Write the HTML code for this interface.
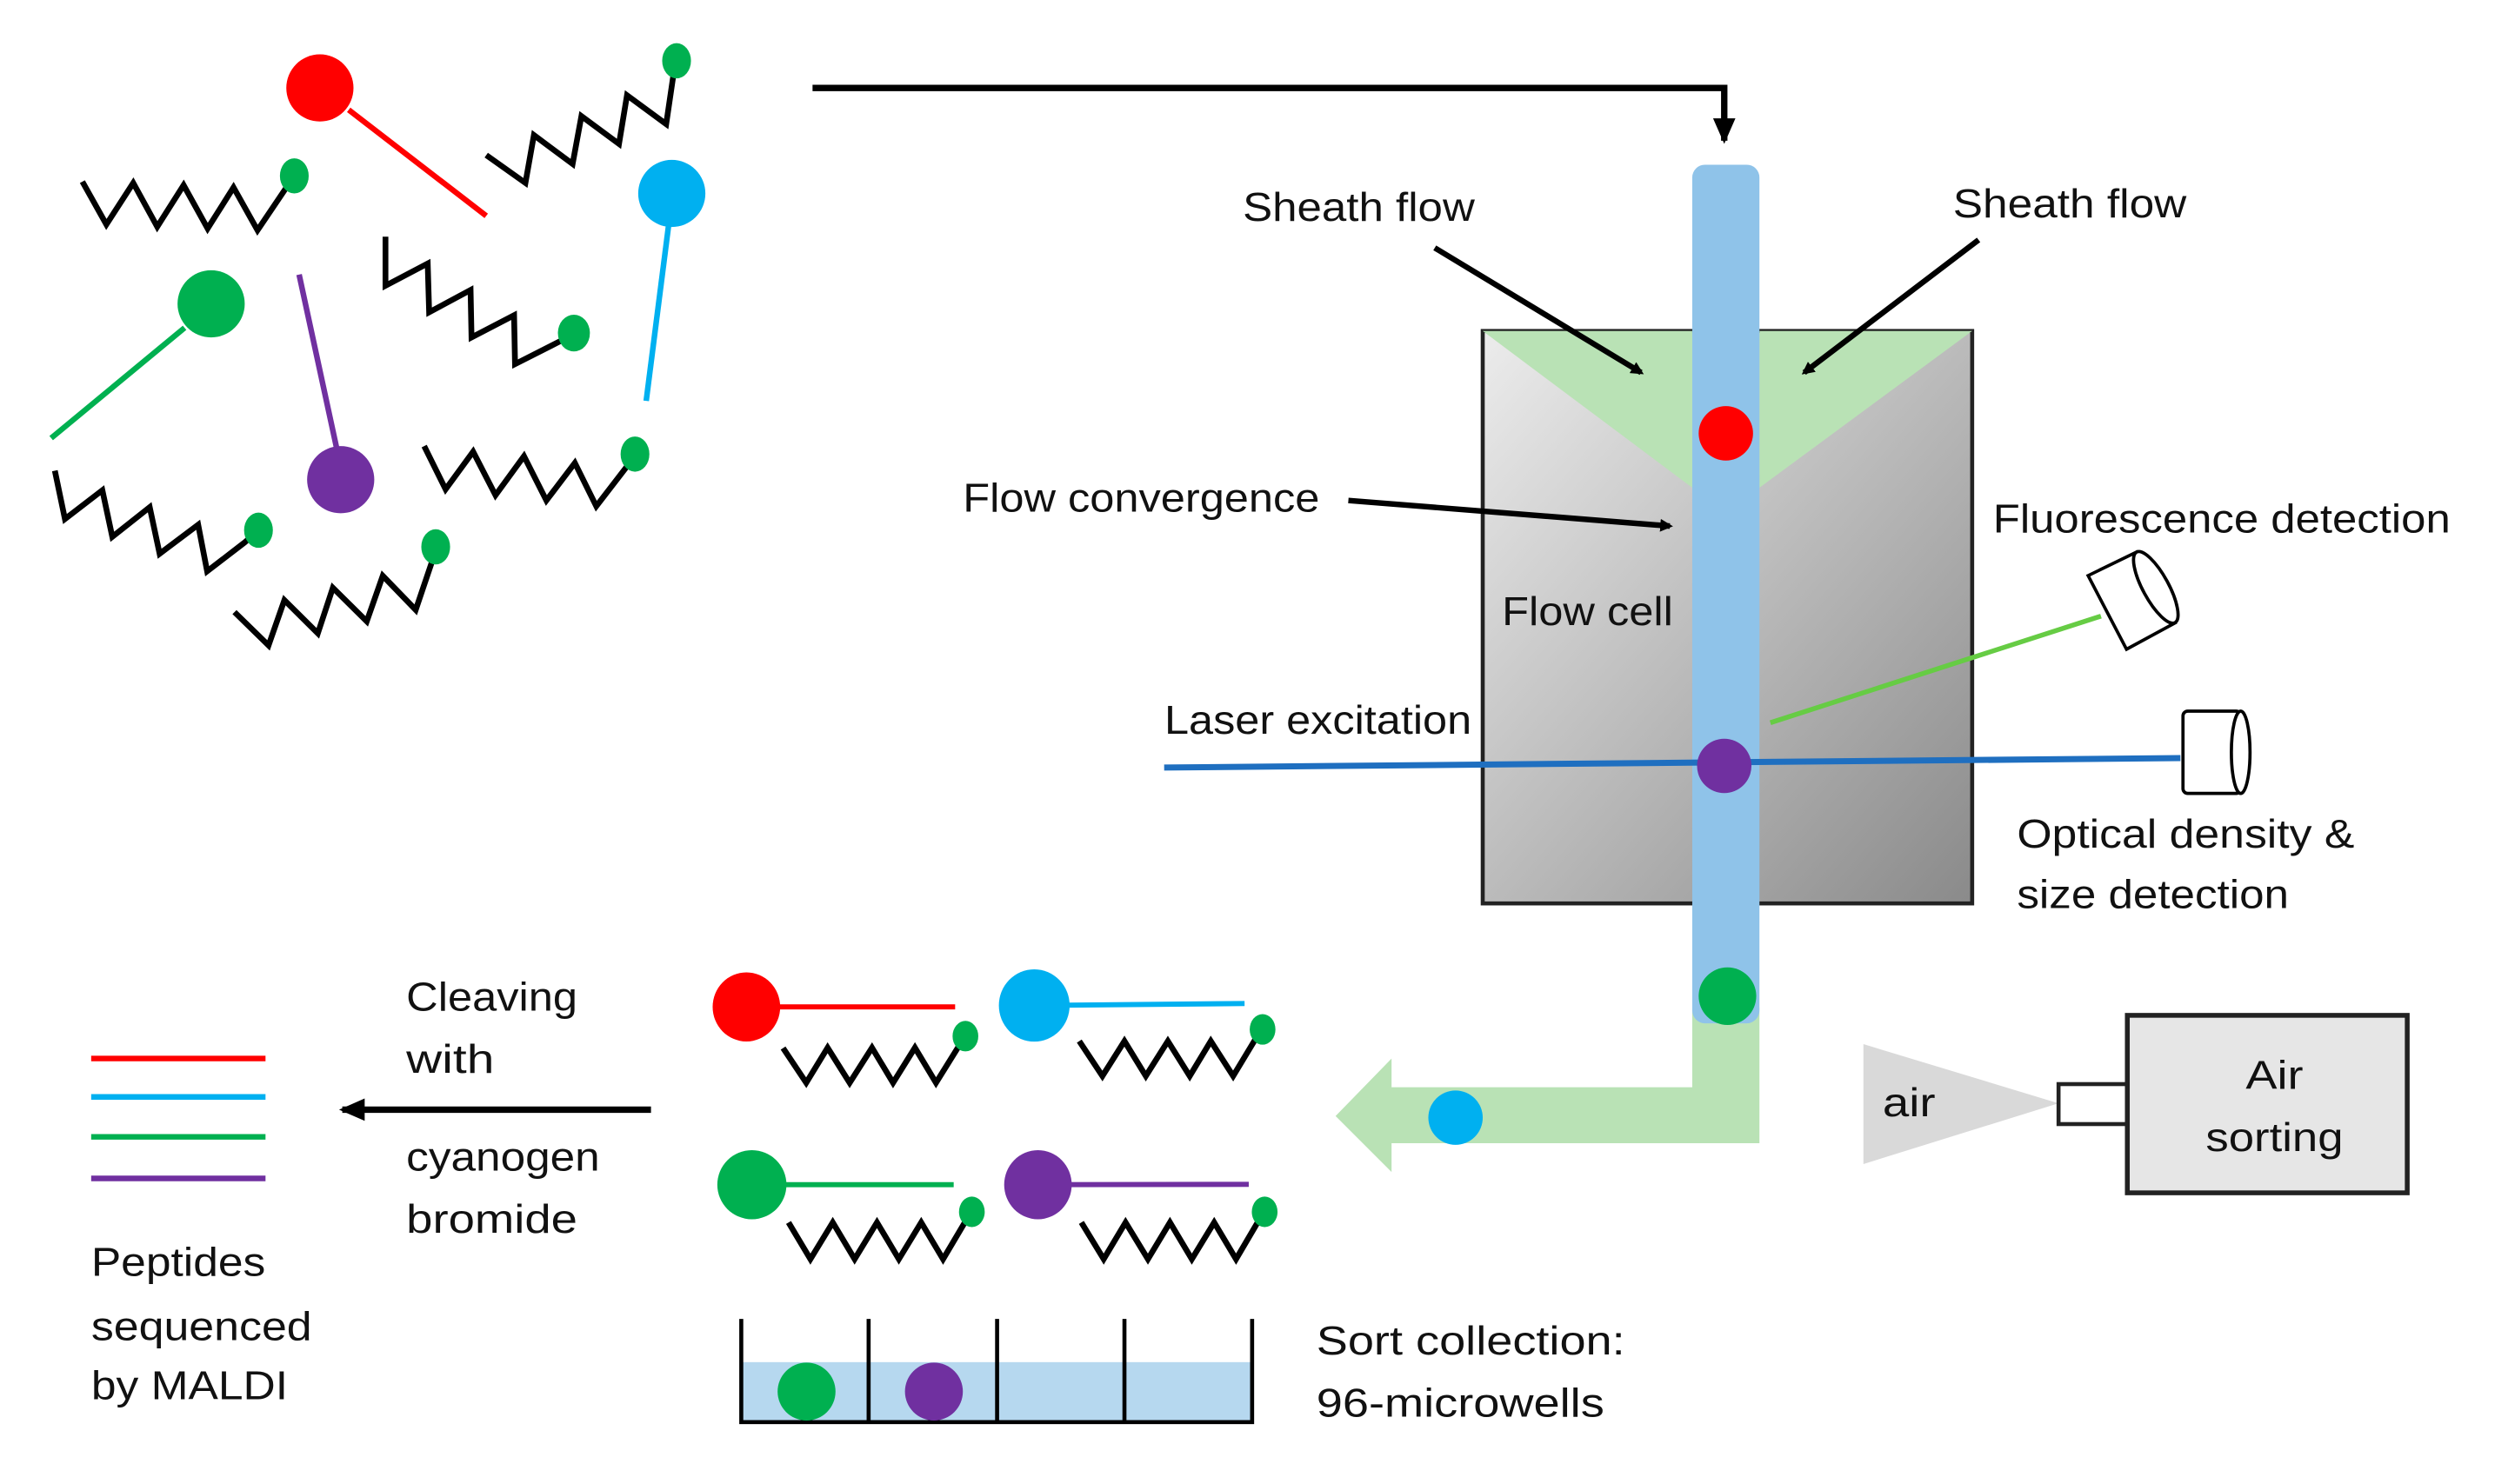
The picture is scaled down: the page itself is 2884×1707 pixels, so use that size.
<!DOCTYPE html>
<html><head><meta charset="utf-8"><style>
html,body{margin:0;padding:0;background:#fff;}
svg{display:block;}
text{font-family:"Liberation Sans",sans-serif;font-size:25px;fill:#111;}
</style></head><body>
<svg width="2884" height="1707" viewBox="0 0 1568 928.1" preserveAspectRatio="none" xmlns="http://www.w3.org/2000/svg">
<defs>
<linearGradient id="g" x1="0" y1="0" x2="1" y2="1">
<stop offset="0" stop-color="#ececec"/><stop offset="1" stop-color="#8a8a8a"/></linearGradient>
<marker id="ah" markerWidth="8" markerHeight="8" refX="6" refY="4" orient="auto" markerUnits="userSpaceOnUse">
<path d="M0,0 L8,4 L0,8 z" fill="#000"/></marker>
<marker id="ah2" markerWidth="16" markerHeight="14" refX="14" refY="7" orient="auto" markerUnits="userSpaceOnUse">
<path d="M0,0 L16,7 L0,14 z" fill="#000"/></marker>
</defs>
<!-- top-left molecules -->
<g fill="none" stroke="#000" stroke-width="3.6">
<polyline points="51.5,113.6 66.5,140.4 83.3,114.4 98.3,141.8 114.8,115.8 129.8,142.9 146,117.2 161,144 177.8,119.1 184,110"/>
<polyline points="304,97 328.5,114.4 333.8,84.5 358,102.5 363.5,72.6 387,90 392,59.6 416.5,77.6 421,47"/>
<polyline points="241,148 241,178.7 267.4,164.8 268.3,195.3 294.2,181.4 294.8,211 321.4,197.2 322,227.7 349.4,213.8 358,209"/>
<polyline points="34.3,294.4 40.6,324.6 64,306.6 70.2,335.7 93.6,317.2 99.8,346.3 123.9,328.2 129.5,357.3 152.9,339.3 160,333"/>
<polyline points="265.2,279 278.6,306 295.8,282.5 309.8,309.7 327.6,285.3 341.6,313 359.4,289.5 372.8,316.6 391.6,292.2 396,285"/>
<polyline points="146.6,382.8 167.9,403.6 177.8,375.3 198.7,396.1 208.1,367.6 229.3,388.6 239.3,360.1 259.9,381.4 269.9,351.8"/>
</g>
<g fill="#00b050">
<ellipse cx="184" cy="110" rx="9" ry="11"/><ellipse cx="423" cy="38" rx="9" ry="11"/>
<ellipse cx="358.8" cy="208.3" rx="10" ry="11.5"/><ellipse cx="161.6" cy="331.6" rx="9" ry="11"/>
<ellipse cx="397" cy="284" rx="9" ry="11"/><ellipse cx="272.4" cy="342" rx="9" ry="11"/>
</g>
<g stroke-width="3.5">
<line x1="218" y1="68.7" x2="304" y2="135" stroke="#ff0000"/>
<line x1="418" y1="141" x2="404" y2="250.7" stroke="#00b0f0"/>
<line x1="115.4" y1="205" x2="32" y2="274" stroke="#00b050"/>
<line x1="187" y1="171.7" x2="211.5" y2="285" stroke="#7030a0"/>
</g>
<circle cx="200" cy="55" r="21" fill="#ff0000"/>
<circle cx="420" cy="121" r="21" fill="#00b0f0"/>
<circle cx="132" cy="190" r="21" fill="#00b050"/>
<circle cx="213" cy="300" r="21" fill="#7030a0"/>

<!-- bottom molecules & wells (zoom-derived) -->
<g transform="scale(1.0053)">
<g fill="none" stroke="#000" stroke-width="3.6">
<polyline points="487,652 501.4,673.6 514.7,651.8 528.4,673.6 542.3,651.8 555.4,673.6 569,651.8 582.1,673.6 595.7,651.8 600,645"/>
<polyline points="671.2,647.7 685.6,669.4 699.3,647.7 712.6,669.4 726.3,647.7 739.9,669.4 753,647.7 766.9,669.4 780,647.7 785,640"/>
<polyline points="490.4,760.5 504,783.3 517.9,760.5 531.5,783.3 545.4,760.5 559,783.3 572.9,760.5 586.5,783.3 600,760.5 604,754"/>
<polyline points="672.5,760.5 686.4,783.3 700,760.5 713.9,783.3 727.6,760.5 741.2,783.3 755.1,760.5 768.7,783.3 782.1,760.5 786,754"/>
</g>
<g fill="#00b050">
<ellipse cx="600.4" cy="644.6" rx="8" ry="9.5"/><ellipse cx="785.2" cy="640.4" rx="8" ry="9.5"/>
<ellipse cx="604.4" cy="753.9" rx="8" ry="9.5"/><ellipse cx="786.5" cy="753.9" rx="8" ry="9.5"/>
</g>
<g stroke-width="3.2">
<line x1="464" y1="626.4" x2="594" y2="626.4" stroke="#ff0000"/>
<line x1="643" y1="625.5" x2="774" y2="624.3" stroke="#00b0f0"/>
<line x1="467.6" y1="737" x2="593.1" y2="737" stroke="#00b050"/>
<line x1="645.5" y1="737" x2="776.6" y2="736.8" stroke="#7030a0"/>
</g>
<ellipse cx="464.2" cy="626.4" rx="21" ry="21.5" fill="#ff0000"/>
<ellipse cx="643.2" cy="625.5" rx="22" ry="22.5" fill="#00b0f0"/>
<ellipse cx="467.6" cy="737" rx="21.5" ry="21.5" fill="#00b050"/>
<ellipse cx="645.5" cy="737" rx="21" ry="21.5" fill="#7030a0"/>
<rect x="461" y="847.4" width="317.7" height="37.3" fill="#b6d8ef"/>
<g stroke="#000" stroke-width="2.5" fill="none">
<polyline points="461,820.5 461,884.7 778.7,884.7 778.7,820.5"/>
<line x1="540.2" y1="820.5" x2="540.2" y2="884.7"/><line x1="620.1" y1="820.5" x2="620.1" y2="884.7"/><line x1="699.3" y1="820.5" x2="699.3" y2="884.7"/>
</g>
<ellipse cx="501.6" cy="865.7" rx="18" ry="18" fill="#00b050"/>
<ellipse cx="580.8" cy="865.7" rx="18" ry="18" fill="#7030a0"/>
</g>

<!-- top arrow -->
<polyline points="508,55 1078,55 1078,88" fill="none" stroke="#000" stroke-width="4" marker-end="url(#ah2)"/>
<!-- flow cell -->
<rect x="927" y="207" width="306" height="358" fill="url(#g)" stroke="#222" stroke-width="2.5"/>
<polygon points="927,207 1058,207 1058,305" fill="#b9e2b5"/>
<polygon points="1100,207 1233,207 1100,305" fill="#b9e2b5"/>
<!-- green L arrow -->
<path d="M1058,630 L1100,630 L1100,715 L870,715 L870,733 L835,698 L870,662 L870,680 L1058,680 Z" fill="#b9e2b5"/>
<rect x="1058" y="103" width="42" height="537" rx="8" fill="#8fc3e9"/>
<circle cx="1079" cy="271" r="17" fill="#ff0000"/>
<circle cx="1080" cy="623" r="18" fill="#00b050"/>
<circle cx="910" cy="699" r="17" fill="#00b0f0"/>

<!-- lasers and detectors (zoom-derived) -->
<g transform="scale(1.0053)">
<line x1="724" y1="477.5" x2="1356" y2="471.6" stroke="#1f6fc0" stroke-width="3.8"/>
<line x1="1101" y1="449.6" x2="1306.6" y2="383.3" stroke="#66cc44" stroke-width="3"/>
<g fill="#fff" stroke="#000" stroke-width="2">
<polygon points="1298.6,358.1 1328.8,343.4 1352.7,387.5 1322.5,403.9"/>
<ellipse cx="1340.7" cy="365.4" rx="8" ry="25" transform="rotate(-28.5 1340.7 365.4)"/>
<rect x="1357.6" y="442.4" width="36" height="51.2" rx="3"/>
<ellipse cx="1393.5" cy="468" rx="5.8" ry="25.6"/>
</g>
</g>
<circle cx="1078" cy="479" r="17" fill="#7030a0"/>
<!-- pointer arrows -->
<g stroke="#000" stroke-width="3.5" marker-end="url(#ah)">
<line x1="897" y1="155" x2="1026" y2="233"/>
<line x1="1237" y1="150" x2="1128" y2="233"/>
<line x1="843" y1="313" x2="1044" y2="329"/>
</g>
<!-- air sorting -->
<polygon points="1165,653 1165,728 1287,690" fill="#d9d9d9"/>
<rect x="1287" y="678" width="43" height="25" fill="#fff" stroke="#222" stroke-width="2.5"/>
<rect x="1330" y="635" width="175" height="111" fill="#e6e6e6" stroke="#222" stroke-width="3"/>
<!-- left arrow -->
<line x1="407" y1="694" x2="214" y2="694" stroke="#000" stroke-width="4" marker-end="url(#ah2)"/>
<!-- legend -->
<g stroke-width="3.5">
<line x1="57" y1="662" x2="166" y2="662" stroke="#ff0000"/>
<line x1="57" y1="686" x2="166" y2="686" stroke="#00b0f0"/>
<line x1="57" y1="711" x2="166" y2="711" stroke="#00b050"/>
<line x1="57" y1="737" x2="166" y2="737" stroke="#7030a0"/>
</g>
<!-- text -->
<text x="777" y="138" textLength="145" lengthAdjust="spacingAndGlyphs">Sheath flow</text>
<text x="1221" y="136" textLength="146" lengthAdjust="spacingAndGlyphs">Sheath flow</text>
<text x="602" y="320" textLength="223" lengthAdjust="spacingAndGlyphs">Flow convergence</text>
<text x="1246" y="333" textLength="286" lengthAdjust="spacingAndGlyphs">Fluorescence detection</text>
<text x="939" y="391" textLength="107" lengthAdjust="spacingAndGlyphs">Flow cell</text>
<text x="728" y="459" textLength="192" lengthAdjust="spacingAndGlyphs">Laser excitation</text>
<text x="1261" y="530" textLength="211" lengthAdjust="spacingAndGlyphs">Optical density &amp;</text>
<text x="1261" y="568" textLength="170" lengthAdjust="spacingAndGlyphs">size detection</text>
<text x="1177" y="698" textLength="33" lengthAdjust="spacingAndGlyphs">air</text>
<text x="1404" y="681" textLength="36" lengthAdjust="spacingAndGlyphs">Air</text>
<text x="1379" y="720" textLength="86" lengthAdjust="spacingAndGlyphs">sorting</text>
<text x="254" y="632" textLength="107" lengthAdjust="spacingAndGlyphs">Cleaving</text>
<text x="254" y="671" textLength="55" lengthAdjust="spacingAndGlyphs">with</text>
<text x="254" y="732" textLength="121" lengthAdjust="spacingAndGlyphs">cyanogen</text>
<text x="254" y="771" textLength="107" lengthAdjust="spacingAndGlyphs">bromide</text>
<text x="57" y="798" textLength="109" lengthAdjust="spacingAndGlyphs">Peptides</text>
<text x="57" y="838" textLength="138" lengthAdjust="spacingAndGlyphs">sequenced</text>
<text x="57" y="875" textLength="123" lengthAdjust="spacingAndGlyphs">by MALDI</text>
<text x="823" y="847" textLength="193" lengthAdjust="spacingAndGlyphs">Sort collection:</text>
<text x="823" y="886" textLength="180" lengthAdjust="spacingAndGlyphs">96-microwells</text>
</svg>
</body></html>
